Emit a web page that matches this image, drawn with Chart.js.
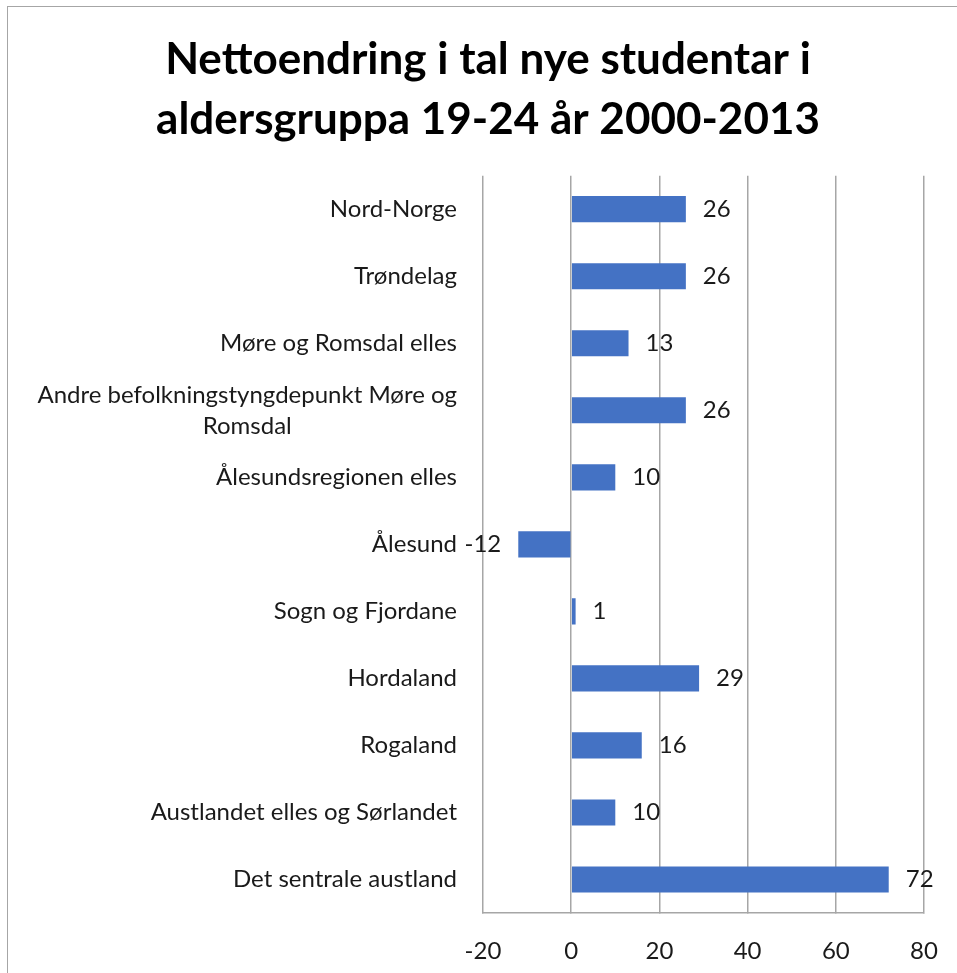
<!DOCTYPE html>
<html>
<head>
<meta charset="utf-8">
<script src="https://cdn.jsdelivr.net/npm/chart.js@4"></script>
<style>
  html, body { margin: 0; padding: 0; background: #fff; overflow: hidden; }
  #wrap { position: relative; width: 957px; height: 973px; }
  #frame { position: absolute; left: 7px; top: 6px; width: 1000px; height: 1000px; border-left: 1.5px solid #a6a6a6; border-top: 1.5px solid #a6a6a6; }
  canvas { position: absolute; left: 0; top: 0; }
</style>
</head>
<body>
<div id="wrap">
  <div id="frame"></div>
  <canvas id="ch" width="957" height="973"></canvas>
</div>
<script>
// data
const TITLE = ["Nettoendring i tal nye studentar i", "aldersgruppa 19-24 år 2000-2013"];
const CATS = [
  "Nord-Norge",
  "Trøndelag",
  "Møre og Romsdal elles",
  ["Andre befolkningstyngdepunkt Møre og", "Romsdal"],
  "Ålesundsregionen elles",
  "Ålesund",
  "Sogn og Fjordane",
  "Hordaland",
  "Rogaland",
  "Austlandet elles og Sørlandet",
  "Det sentrale austland"
];
const VALS = [26, 26, 13, 26, 10, -12, 1, 29, 16, 10, 72];
const X_TICKS = [-20, 0, 20, 40, 60, 80];

const FONT = "Lato, 'Open Sans', sans-serif";
const TXT = "#1a1a1a";
const GRID = "#a6a6a6";

// category labels: block right aligned, lines centred inside the block
const catLabels = {
  id: "catLabels",
  afterDraw(c) {
    const ctx = c.ctx, y = c.scales.y, xr = c.chartArea.left - 26;
    ctx.save();
    ctx.font = "24px " + FONT; ctx.fillStyle = TXT; ctx.textBaseline = "middle"; ctx.textAlign = "center";
    CATS.forEach((lab, i) => {
      const lines = Array.isArray(lab) ? lab : [lab];
      const w = Math.max(...lines.map(l => ctx.measureText(l).width));
      const cy = y.getPixelForValue(i), lh = 31;
      lines.forEach((l, k) => ctx.fillText(l, xr - w / 2, cy + (k - (lines.length - 1) / 2) * lh));
    });
    ctx.restore();
  }
};

// value labels outside the bar end
const valLabels = {
  id: "valLabels",
  afterDatasetsDraw(c) {
    const ctx = c.ctx, meta = c.getDatasetMeta(0);
    ctx.save();
    ctx.font = "24px " + FONT; ctx.fillStyle = TXT; ctx.textBaseline = "middle";
    meta.data.forEach((b, i) => {
      const v = VALS[i];
      ctx.textAlign = v < 0 ? "right" : "left";
      ctx.fillText(String(v), v < 0 ? b.x - 17 : b.x + 17, b.y);
    });
    ctx.restore();
  }
};

new Chart(document.getElementById("ch"), {
  type: "bar",
  data: { labels: CATS, datasets: [{ data: VALS, backgroundColor: "#4472C4", barPercentage: 0.39, categoryPercentage: 1 }] },
  options: {
    indexAxis: "y", responsive: false, animation: false, devicePixelRatio: 1,
    layout: { padding: { left: 52, right: 33, top: 0, bottom: 0 } },
    plugins: {
      legend: { display: false }, tooltip: { enabled: false },
      title: { display: true, text: TITLE, color: "#000", font: { family: FONT, size: 44, weight: "bold", lineHeight: 1.36 }, padding: { top: 30, bottom: 26 } }
    },
    scales: {
      x: {
        min: -20, max: 80,
        afterBuildTicks: s => { s.ticks = X_TICKS.map(v => ({ value: v })); },
        afterFit: s => { s.height = 60; s.paddingLeft = 0; s.paddingRight = 0; },
        grid: { color: GRID, lineWidth: 1.5, tickLength: 0 },
        border: { color: GRID, width: 1.5 },
        ticks: { color: TXT, padding: 24, font: { family: FONT, size: 24 } }
      },
      y: {
        afterFit: s => { s.width = 431; },
        grid: { display: false }, border: { display: false },
        ticks: { display: false }
      }
    }
  },
  plugins: [catLabels, valLabels]
});
</script>
</body>
</html>
